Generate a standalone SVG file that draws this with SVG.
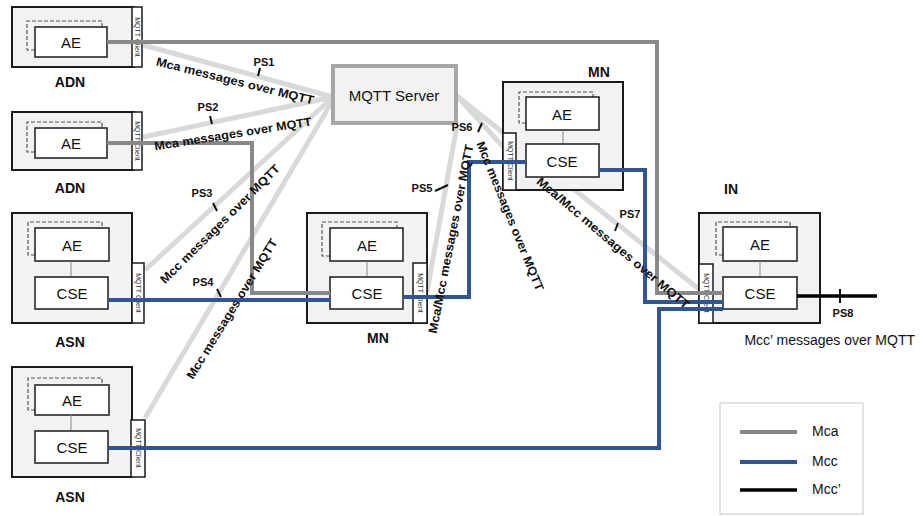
<svg xmlns="http://www.w3.org/2000/svg" width="923" height="516" viewBox="0 0 923 516">
<style>
.outer{fill:#f2f2f2;stroke:#1a1a1a;stroke-width:2}
.strip{fill:#fff;stroke:#1a1a1a;stroke-width:1.5}
.box{fill:#fff;stroke:#1a1a1a;stroke-width:1.5}
.shadow{fill:none;stroke:#555;stroke-width:1.2;stroke-dasharray:4,2}
.link{stroke:#888;stroke-width:1}
.bx{font-family:"Liberation Sans",Arial,sans-serif;font-size:15px;fill:#111;text-anchor:middle;dominant-baseline:central}
.nl{font-family:"Liberation Sans",Arial,sans-serif;font-size:14px;font-weight:bold;fill:#111;text-anchor:middle;dominant-baseline:central}
.st{font-family:"Liberation Sans",Arial,sans-serif;font-size:7px;fill:#333;text-anchor:middle;dominant-baseline:central}
.mq{fill:none;stroke:#d9d9d9;stroke-width:5}
.mca{fill:none;stroke:#888;stroke-width:4}
.mcc{fill:none;stroke:#2f5597;stroke-width:4}
.mccp{fill:none;stroke:#000;stroke-width:3.5}
.lt{font-family:"Liberation Sans",Arial,sans-serif;font-size:12px;font-weight:bold;fill:#111;text-anchor:middle;dominant-baseline:central}
.ps{font-family:"Liberation Sans",Arial,sans-serif;font-size:11px;font-weight:bold;fill:#111;text-anchor:middle;dominant-baseline:central}
.tick{stroke:#111;stroke-width:2}
.leg{font-family:"Liberation Sans",Arial,sans-serif;font-size:14px;fill:#111;dominant-baseline:central}
</style>

<g id="mqtt-links">
<line class="mq" x1="143" y1="45" x2="333" y2="97"/>
<line class="mq" x1="143" y1="137" x2="333" y2="97"/>
<line class="mq" x1="145" y1="270" x2="333" y2="97"/>
<line class="mq" x1="145" y1="418" x2="333" y2="100"/>
<line class="mq" x1="427" y1="292" x2="457" y2="125"/>
<line class="mq" x1="457" y1="96" x2="506" y2="150"/>
<line class="mq" x1="457" y1="96" x2="705" y2="294"/>
</g>

<g id="mqtt-server">
<rect x="333" y="66" width="123" height="57" fill="#f2f2f2" stroke="#a6a6a6" stroke-width="4"/>
<text class="bx" x="394" y="95" font-size="16">MQTT Server</text>
</g>

<g id="adn1">
<rect class="outer" x="12" y="7" width="122" height="60"/>
<rect class="strip" x="132" y="7" width="10" height="60"/>
<text class="st" transform="translate(137,37) rotate(90)">MQTT Client</text>
<path class="shadow" d="M35,50 H27 V21 H102 V27"/>
<rect class="box" x="35" y="27" width="72" height="30"/>
<text class="bx" x="71" y="42">AE</text>
<text class="nl" x="70" y="82">ADN</text>
</g>

<g id="adn2">
<rect class="outer" x="12" y="112" width="122" height="58"/>
<rect class="strip" x="132" y="112" width="10" height="58"/>
<text class="st" transform="translate(137,141) rotate(90)">MQTT Client</text>
<path class="shadow" d="M35,152 H27 V122 H102 V128"/>
<rect class="box" x="35" y="128" width="72" height="30"/>
<text class="bx" x="71" y="143">AE</text>
<text class="nl" x="70" y="188">ADN</text>
</g>

<g id="asn1">
<rect class="outer" x="12" y="213" width="120" height="110"/>
<rect class="strip" x="132" y="263" width="12" height="60"/>
<text class="st" transform="translate(138,293) rotate(90)">MQTT Client</text>
<path class="shadow" d="M35,255 H28 V222 H102 V228"/>
<rect class="box" x="35" y="228" width="74" height="33"/>
<text class="bx" x="72" y="245">AE</text>
<line class="link" x1="71" y1="261" x2="71" y2="277"/>
<rect class="box" x="35" y="277" width="73" height="32"/>
<text class="bx" x="72" y="293">CSE</text>
<text class="nl" x="70" y="342">ASN</text>
</g>

<g id="asn2">
<rect class="outer" x="12" y="367" width="120" height="110"/>
<rect class="strip" x="131" y="420" width="14" height="57"/>
<text class="st" transform="translate(138,448) rotate(90)">MQTT Client</text>
<path class="shadow" d="M35,410 H28 V378 H102 V385"/>
<rect class="box" x="35" y="385" width="74" height="30"/>
<text class="bx" x="72" y="400">AE</text>
<line class="link" x1="71" y1="415" x2="71" y2="431"/>
<rect class="box" x="35" y="431" width="73" height="32"/>
<text class="bx" x="72" y="447">CSE</text>
<text class="nl" x="70" y="497">ASN</text>
</g>

<g id="mn1">
<rect class="outer" x="307" y="213" width="120" height="110"/>
<rect class="strip" x="413" y="263" width="14" height="60"/>
<text class="st" transform="translate(420,293) rotate(90)">MQTT Client</text>
<path class="shadow" d="M330,256 H322 V222 H397 V228"/>
<rect class="box" x="330" y="228" width="73" height="33"/>
<text class="bx" x="367" y="245">AE</text>
<line class="link" x1="367" y1="261" x2="367" y2="277"/>
<rect class="box" x="330" y="277" width="73" height="32"/>
<text class="bx" x="367" y="293">CSE</text>
<text class="nl" x="378" y="338">MN</text>
</g>

<g id="mn2">
<rect class="outer" x="503" y="82" width="120" height="108"/>
<rect class="strip" x="503" y="133" width="13" height="57"/>
<text class="st" transform="translate(510,161) rotate(90)">MQTT Client</text>
<path class="shadow" d="M526,123 H519 V92 H593 V97"/>
<rect class="box" x="526" y="97" width="73" height="33"/>
<text class="bx" x="562" y="114">AE</text>
<line class="link" x1="563" y1="130" x2="563" y2="144"/>
<rect class="box" x="526" y="144" width="73" height="33"/>
<text class="bx" x="562" y="161">CSE</text>
<text class="nl" x="599" y="72">MN</text>
</g>

<g id="in">
<rect class="outer" x="699" y="213" width="121" height="110"/>
<rect class="strip" x="699" y="264" width="14" height="59"/>
<text class="st" transform="translate(706,293) rotate(90)">MQTT Client</text>
<path class="shadow" d="M723,255 H716 V222 H790 V227"/>
<rect class="box" x="723" y="227" width="74" height="34"/>
<text class="bx" x="760" y="244">AE</text>
<line class="link" x1="760" y1="261" x2="760" y2="277"/>
<rect class="box" x="723" y="277" width="74" height="32"/>
<text class="bx" x="760" y="293">CSE</text>
<text class="nl" x="731" y="189">IN</text>
</g>

<g id="connectors">
<polyline class="mca" points="107,42 657,42 657,293 723,293"/>
<polyline class="mca" points="107,143 252,143 252,293 330,293"/>
<polyline class="mcc" points="108,300 330,300"/>
<polyline class="mcc" points="403,297 469,297 469,162 526,162"/>
<polyline class="mcc" points="599,170 645,170 645,302 723,302"/>
<polyline class="mcc" points="108,448 659,448 659,309 723,309"/>
<polyline class="mccp" points="797,296 877,296"/>
<line class="tick" x1="840" y1="289" x2="840" y2="303"/>
</g>

<g id="labels">
<text class="lt" transform="translate(235,81) rotate(14)" textLength="162" lengthAdjust="spacingAndGlyphs">Mca messages over MQTT</text>
<text class="lt" transform="translate(233,134) rotate(-9)" textLength="159" lengthAdjust="spacingAndGlyphs">Mca messages over MQTT</text>
<text class="lt" transform="translate(220,224) rotate(-44.8)" textLength="163" lengthAdjust="spacingAndGlyphs">Mcc messages over MQTT</text>
<text class="lt" transform="translate(232,309) rotate(-58.4)" textLength="162" lengthAdjust="spacingAndGlyphs">Mcc messages over MQTT</text>
<text class="lt" transform="translate(451,239) rotate(-78.9)" textLength="192" lengthAdjust="spacingAndGlyphs">Mca/Mcc messages over MQTT</text>
<text class="lt" transform="translate(510,216) rotate(67.9)" textLength="160" lengthAdjust="spacingAndGlyphs">Mcc messages over MQTT</text>
<text class="lt" transform="translate(613,243) rotate(40.3)" textLength="196" lengthAdjust="spacingAndGlyphs">Mca/Mcc messages over MQTT</text>
<text class="leg" x="915" y="340" font-size="12.5" text-anchor="end">Mcc’ messages over MQTT</text>

<text class="ps" x="264" y="62">PS1</text>
<line class="tick" x1="260" y1="68" x2="258" y2="76"/>
<text class="ps" x="208" y="107">PS2</text>
<line class="tick" x1="210" y1="116" x2="212" y2="124"/>
<text class="ps" x="202" y="193">PS3</text>
<line class="tick" x1="213" y1="203" x2="217" y2="211"/>
<text class="ps" x="203" y="282">PS4</text>
<line class="tick" x1="217" y1="289" x2="221" y2="297"/>
<text class="ps" x="422" y="188">PS5</text>
<line class="tick" x1="435" y1="191" x2="448" y2="185"/>
<text class="ps" x="462" y="127">PS6</text>
<line class="tick" x1="482" y1="123" x2="478" y2="132"/>
<text class="ps" x="630" y="214">PS7</text>
<line class="tick" x1="618" y1="223" x2="615" y2="231"/>
<text class="ps" x="843" y="313">PS8</text>
</g>

<g id="legend">
<rect x="720" y="403" width="143" height="111" fill="#fff" stroke="#d9d9d9" stroke-width="1.5"/>
<line x1="740" y1="432" x2="797" y2="432" stroke="#888" stroke-width="4"/>
<line x1="740" y1="462" x2="797" y2="462" stroke="#2f5597" stroke-width="4"/>
<line x1="740" y1="490" x2="797" y2="490" stroke="#000" stroke-width="3.5"/>
<text class="leg" x="812" y="431">Mca</text>
<text class="leg" x="812" y="461">Mcc</text>
<text class="leg" x="812" y="489">Mcc’</text>
</g>
</svg>
